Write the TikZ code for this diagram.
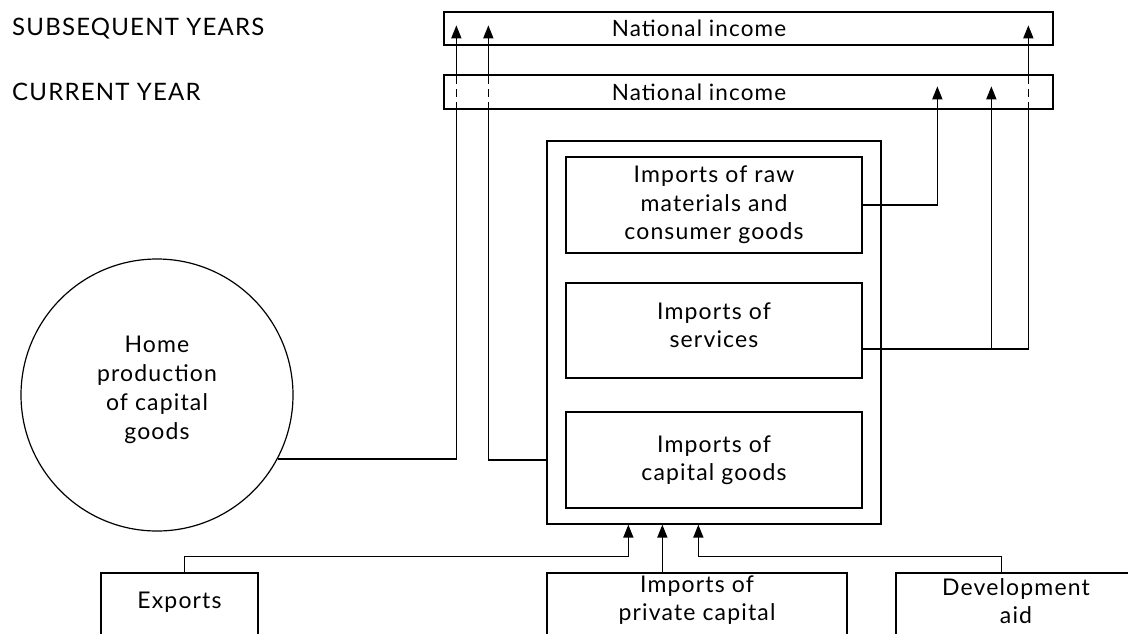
\documentclass[tikz,border=0pt]{standalone}
\usepackage{fontspec}
\setmainfont[LetterSpace=5]{Lato}
\newfontfamily\labfont[LetterSpace=5]{Lato}
\usetikzlibrary{arrows.meta}
\begin{document}
\begin{tikzpicture}[x=1pt,y=-1pt,
  txt/.style={inner sep=0pt, align=center, font=\fontsize{23}{28.5}\selectfont},
  box/.style={draw, line width=1.3pt, inner sep=0pt, align=center, font=\fontsize{23}{28.5}\selectfont},
  lab/.style={inner sep=0pt, anchor=west, font=\labfont\fontsize{24}{26}\selectfont},
  conn/.style={line width=1.6pt},
  arr/.style={conn, -{Triangle[length=13pt,width=10pt]}},
  dsh/.style={line width=1.6pt, dash pattern=on 8pt off 5pt}]
\useasboundingbox (0,0) rectangle (1128,633);
\clip (0,0) rectangle (1128,633);

% year labels
\node[lab] (lsub) at (12,28.5) {SUBSEQUENT YEARS};
\node[lab] (lcur) at (12,92) {CURRENT YEAR};

% national income bars
\node[box, minimum width=609pt, minimum height=33pt] (sub) at (748.5,28.5) {};
\node[txt, font=\fontsize{22.5}{28}\selectfont] (subt) at (699,28.5) {National income};
\node[box, minimum width=609pt, minimum height=34pt] (cur) at (748.5,92) {};
\node[txt, font=\fontsize{22.5}{28}\selectfont] (curt) at (699,92) {National income};

% imports block
\node[box, minimum width=334pt, minimum height=383pt] (outer) at (714,332.5) {};
\node[box, minimum width=296pt, minimum height=96pt] (raw) at (714,205) {Imports of raw\\materials and\\consumer goods};
\node[box, minimum width=296pt, minimum height=95pt] (serv) at (714,330.5) {};
\node[txt] (servt) at (714,325) {Imports of\\services};
\node[box, minimum width=296pt, minimum height=96pt] (cap) at (714,460) {Imports of\\capital goods};

% home production
\node[draw, circle, line width=1.2pt, minimum size=272pt, inner sep=0pt] (home) at (157,395) {};
\node[txt, font=\fontsize{23}{29}\selectfont] (homet) at (157,390) {Home\\production\\of capital\\goods};

% bottom boxes (cut by the page edge)
\node[box, minimum width=157pt, minimum height=120pt] (exp) at (179.5,633) {};
\node[txt] (expt) at (179.5,602) {Exports};
\node[box, minimum width=300pt, minimum height=120pt] (priv) at (697,633) {};
\node[txt] (privt) at (697,600) {Imports of\\private capital};
\node[box, minimum width=300pt, minimum height=120pt] (dev) at (1046,633) {};
\node[txt] (devt) at (1016,601) {Development\\aid};

% helper coordinates
\coordinate (xa) at ([xshift=13pt]cur.south west);
\coordinate (xb) at ([xshift=45pt]cur.south west);
\coordinate (xc) at ([xshift=494pt]cur.south west);
\coordinate (xd) at ([xshift=548pt]cur.south west);
\coordinate (xe) at ([xshift=585pt]cur.south west);
\coordinate (sl) at ([yshift=-18.5pt]serv.east);

% to subsequent years, via dashed crossing of current year
\draw[conn] (home.-28.1) -| (xa);
\draw[dsh] (xa) -- (xa |- cur.north);
\draw[arr] (xa |- cur.north) -- ([yshift=-14pt]xa |- sub.north);

\draw[conn] (outer.west |- cap) -| (xb);
\draw[dsh] (xb) -- (xb |- cur.north);
\draw[arr] (xb |- cur.north) -- ([yshift=-14pt]xb |- sub.north);

\draw[conn] (sl) -| (xe);
\draw[dsh] (xe) -- (xe |- cur.north);
\draw[arr] (xe |- cur.north) -- ([yshift=-14pt]xe |- sub.north);

% to current year
\draw[arr] (raw.east) -| ([yshift=-12pt]xc |- cur.north);
\draw[arr] (xd |- sl) -- ([yshift=-12pt]xd |- cur.north);

% into imports
\draw[arr] ([xshift=84pt]exp.north west) -- ++(0,-16) -| ([xshift=82pt]outer.south west);
\draw[arr] ([xshift=116pt]priv.north west) -- ([xshift=116pt]outer.south west);
\draw[arr] ([xshift=106pt]dev.north west) -- ++(0,-16) -| ([xshift=152pt]outer.south west);
\end{tikzpicture}
\end{document}
